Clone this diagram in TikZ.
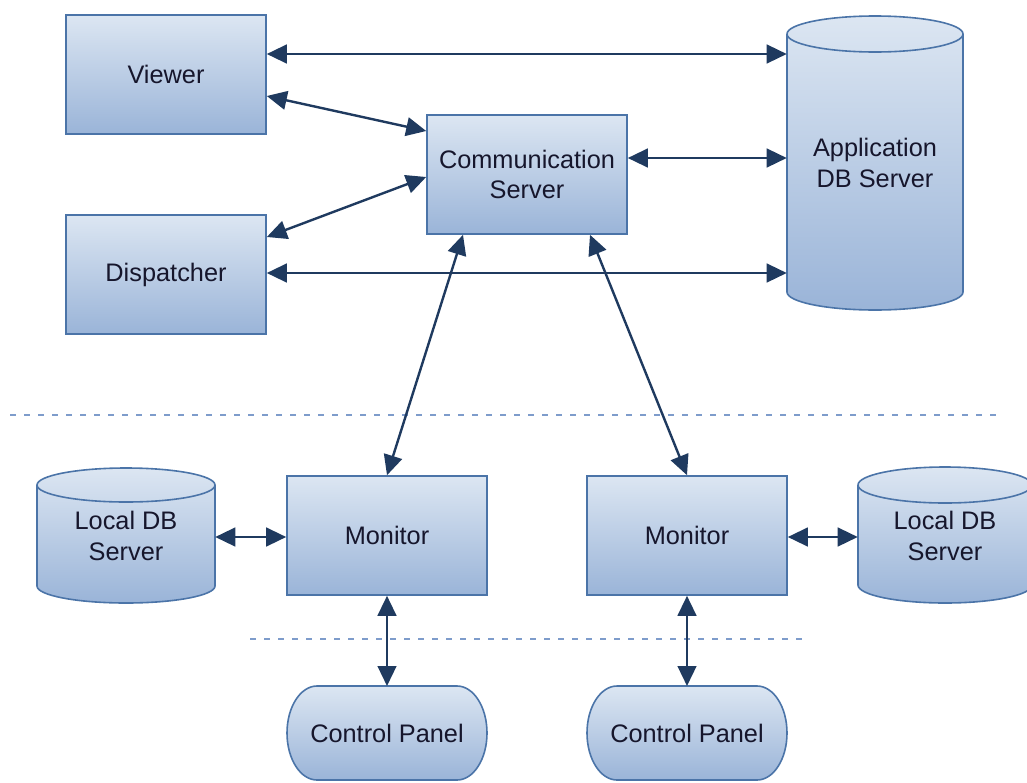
\documentclass[tikz,border=0pt]{standalone}
\usepackage{fontspec}
\setmainfont{Liberation Sans}
\usetikzlibrary{arrows.meta,calc}

\definecolor{boxtop}{HTML}{DCE6F2}
\definecolor{boxbot}{HTML}{9AB4D8}
\definecolor{boxline}{HTML}{4B74A8}
\definecolor{linkcol}{HTML}{1F3A5F}
\definecolor{textcol}{HTML}{16162C}
\definecolor{sepcol}{HTML}{7E9CCB}

% drum (database cylinder): centre x, top y, bottom y, x radius, y radius
\newcommand\dbdrum[5]{%
  \path[shapefill] (#1-#4,#2+#5) -- (#1-#4,#3-#5)
    arc[start angle=180,end angle=0,x radius=#4,y radius=#5]
    -- (#1+#4,#2+#5)
    arc[start angle=0,end angle=-180,x radius=#4,y radius=#5] -- cycle;
  \draw[shapeline] (#1-#4,#2+#5)
    arc[start angle=180,end angle=0,x radius=#4,y radius=#5];
}
% rounded panel outline: centre x, centre y
\newcommand\panelshape[2]{%
  \path[shapefill] (#1-70,#2-47) -- (#1+70,#2-47)
    arc[start angle=-90,end angle=90,x radius=30,y radius=47]
    -- (#1-70,#2+47)
    arc[start angle=90,end angle=270,x radius=30,y radius=47] -- cycle;
}

\tikzset{
  shapefill/.style={top color=boxtop,bottom color=boxbot,draw=boxline,line width=1.2pt},
  shapeline/.style={draw=boxline,line width=1.2pt},
  lbl/.style={text=textcol,align=center,font=\fontsize{19}{23}\selectfont},
  box/.style={lbl,shapefill,rectangle,minimum width=150pt,minimum height=89.25pt,inner sep=0pt},
  ghost/.style={lbl,rectangle,inner sep=0pt},
  link/.style={draw=linkcol,line width=1.8pt,
    {Triangle[length=15pt,width=14pt]}-{Triangle[length=15pt,width=14pt]}},
  sep/.style={draw=sepcol,line width=1.6pt,dash pattern=on 4.5pt off 6pt}
}

\begin{document}
\begin{tikzpicture}[x=0.75pt,y=-0.75pt]
\useasboundingbox (0,0) rectangle (1027,782);

% separators
\draw[sep] (10,415) -- (1000,415);
\draw[sep] (250,639) -- (805,639);

% storage drums
\dbdrum{875}{16}{310}{88}{18}
\dbdrum{126}{468}{603}{89}{17}
\dbdrum{945}{467}{603}{87}{18}

% rounded panels
\panelshape{387}{733}
\panelshape{687}{733}

% boxes
\node[box] (viewer) at (166,74.5) {Viewer};
\node[box] (disp) at (166,274.5) {Dispatcher};
\node[box] (comm) at (527,174.5) {Communication\\Server};
\node[box] (monL) at (387,535.5) {Monitor};
\node[box] (monR) at (687,535.5) {Monitor};

% labels of drums and panels
\node[ghost,minimum width=132pt,minimum height=220.5pt] (appdb) at (875,163) {Application\\DB Server};
\node[ghost,minimum width=133.5pt,minimum height=75pt] (ldbL) at (126,536) {Local DB\\Server};
\node[ghost,minimum width=130.5pt,minimum height=75pt] (ldbR) at (945,536) {Local DB\\Server};
\node[ghost,minimum width=150pt,minimum height=70.5pt] (cpL) at (387,733) {Control Panel};
\node[ghost,minimum width=150pt,minimum height=70.5pt] (cpR) at (687,733) {Control Panel};

% connectors
\draw[link] ($(viewer.east)+(0,-20.5)$) -- ($(viewer.east -| appdb.west)+(0,-20.5)$);
\draw[link] ($(viewer.east)+(0,21.5)$) -- ($(comm.west)+(0,-43.5)$);
\draw[link] ($(disp.east)+(0,-37.5)$) -- ($(comm.west)+(0,2.5)$);
\draw[link] ($(disp.east)+(0,-1.5)$) -- ($(disp.east -| appdb.west)+(0,-1.5)$);
\draw[link] ($(comm.east)+(0,-16.5)$) -- ($(comm.east -| appdb.west)+(0,-16.5)$);
\draw[link] ($(comm.south)+(-64,0)$) -- (monL.north);
\draw[link] ($(comm.south)+(63,0)$) -- (monR.north);
\draw[link] ($(ldbL.east)+(0,1)$) -- ($(monL.west)+(0,1.5)$);
\draw[link] ($(monR.east)+(0,1.5)$) -- ($(ldbR.west)+(0,1)$);
\draw[link] (monL.south) -- (cpL.north |- 0,686);
\draw[link] (monR.south) -- (cpR.north |- 0,686);
\end{tikzpicture}
\end{document}
